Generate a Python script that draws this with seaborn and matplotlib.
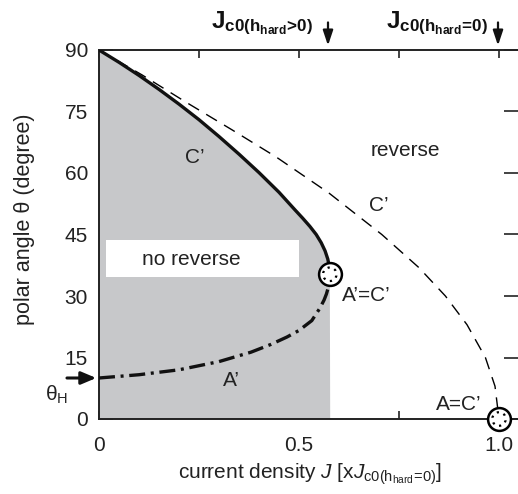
import numpy as np
import pandas as pd
import matplotlib
matplotlib.use("Agg")
import matplotlib.pyplot as plt
import seaborn as sns

# ---- data ----
# solid C' curve (upper branch of the boundary)
c_solid_J = [0.0, 0.05, 0.1, 0.15, 0.2, 0.25, 0.3, 0.35, 0.4, 0.45, 0.49, 0.509, 0.527,
             0.543, 0.5555, 0.5652, 0.572, 0.576, 0.577]
c_solid_theta = [90.0, 87.0, 83.8, 80.4, 76.8, 73.0, 68.9, 64.6, 60.1, 55.3, 51.0, 49.0, 47.0,
                 45.0, 43.0, 41.0, 39.0, 37.0, 35.3]
# dash-dot A' curve (lower branch)
a_J = [0.0, 0.1, 0.2, 0.3, 0.38, 0.43, 0.47, 0.5, 0.532, 0.552, 0.5626, 0.5686, 0.573, 0.5758, 0.577]
a_theta = [10.0, 10.8, 12.0, 14.0, 16.3, 18.2, 20.0, 21.6, 24.0, 27.0, 29.0, 30.5, 32.0, 33.5, 35.3]
# dashed C' curve for h_hard = 0
d_J = [0.0, 0.108, 0.217, 0.333, 0.443, 0.575, 0.707, 0.80, 0.866, 0.92, 0.966, 0.99, 1.0]
d_theta = [90.0, 83.9, 77.3, 70.5, 63.9, 55.1, 45.0, 36.9, 30.0, 23.0, 15.0, 8.0, 0.0]
# special points
pts_J = [0.577, 1.0]
pts_theta = [35.3, 0.0]
theta_H = 10.0
jc_hard = 0.5725
jc_zero = 0.9975

x_ticks = [0, 0.25, 0.5, 0.75, 1.0]
x_ticklabels = ["0", "", "0.5", "", "1.0"]
y_ticks = [0, 15, 30, 45, 60, 75, 90]

sns.set_style("ticks")
plt.rcParams["font.family"] = ["Liberation Sans", "DejaVu Sans"]
plt.rcParams["mathtext.fontset"] = "custom"
plt.rcParams["mathtext.rm"] = "Liberation Sans"
plt.rcParams["mathtext.it"] = "Liberation Sans:italic"
plt.rcParams["mathtext.bf"] = "Liberation Sans:bold"

W, H = 518, 494
fig = plt.figure(figsize=(W / 100, H / 100), dpi=100)
ax = fig.add_axes([99 / W, 1 - 419 / H, 419 / W, 369 / H])

gray = "#c7c8ca"
# shaded "no reverse" region
poly_x = [0.0] + c_solid_J + [c_solid_J[-1] + 0.001, 0.0]
poly_y = [0.0] + c_solid_theta + [0.0, 0.0]
ax.fill(poly_x, poly_y, color=gray, lw=0, zorder=1)

# white box for label
ax.add_patch(plt.Rectangle((0.0175, 34.6), 0.4825, 9.0, facecolor="white", edgecolor="none", zorder=2))

df_d = pd.DataFrame({"J": d_J, "theta": d_theta})
df_c = pd.DataFrame({"J": c_solid_J, "theta": c_solid_theta})
df_a = pd.DataFrame({"J": a_J, "theta": a_theta})

sns.lineplot(data=df_d, x="J", y="theta", sort=False, estimator=None, ax=ax,
             color="black", lw=1.0, zorder=3)
ax.lines[-1].set_dashes((9, 6))
sns.lineplot(data=df_c, x="J", y="theta", sort=False, estimator=None, ax=ax,
             color="#111111", lw=2.4, zorder=4)
ax.lines[-1].set_solid_joinstyle("round")
sns.lineplot(data=df_a, x="J", y="theta", sort=False, estimator=None, ax=ax,
             color="#111111", lw=2.4, zorder=4)
ax.lines[-1].set_dashes((4.8, 1.7, 0.9, 1.7))

# circled points
ax.scatter(pts_J, pts_theta, s=270, facecolor="white", edgecolor="black", lw=1.8, zorder=6, clip_on=False)
ax.scatter(pts_J, pts_theta, s=95, facecolor="none", edgecolor="black", lw=1.6,
           linestyle=(0, (1, 2.2)), zorder=7, clip_on=False)

ax.set_xlim(0, 1.0475)
ax.set_ylim(0, 90)
ax.set_xticks(x_ticks)
ax.set_xticklabels(x_ticklabels)
ax.set_yticks(y_ticks)

ax.spines["right"].set_visible(False)
for s in ["left", "bottom", "top"]:
    ax.spines[s].set_linewidth(1.4)
    ax.spines[s].set_color("#222222")
ax.tick_params(axis="y", direction="in", length=10, width=1.2, left=True, right=True,
               labelsize=15, pad=8, colors="#222222")
ax.tick_params(axis="x", direction="in", length=6, width=1.2, top=True, bottom=True,
               labelsize=15, pad=12, colors="#222222")

ax.set_ylabel("polar angle θ (degree)", fontsize=15.5, color="#222222")
ax.yaxis.set_label_coords(-0.153, 0.542)
ax.set_xlabel(r"current density $\mathit{J}$ [x$\mathit{J}_{\mathrm{c0(h_{hard}\!=\!0)}}$]",
              fontsize=15, color="#222222")
ax.xaxis.set_label_coords(0.503, -0.115)

# text labels
tk = dict(color="#222222", zorder=8)
ax.text(0.765, 65.6, "reverse", fontsize=15, ha="center", va="center", **tk)
ax.text(0.24, 63.7, "C’", fontsize=15, ha="center", va="center", **tk)
ax.text(0.70, 52.0, "C’", fontsize=15, ha="center", va="center", **tk)
ax.text(0.232, 38.9, "no reverse", fontsize=15, ha="center", va="center", **tk)
ax.text(0.668, 30.2, "A’=C’", fontsize=15, ha="center", va="center", **tk)
ax.text(0.33, 9.5, "A’", fontsize=15, ha="center", va="center", **tk)
ax.text(0.90, 3.6, "A=C’", fontsize=15, ha="center", va="center", **tk)

# theta_H arrow and label
ax.annotate("", xy=(0.0, theta_H), xytext=(-0.087, theta_H),
            arrowprops=dict(arrowstyle="-|>,head_length=0.9,head_width=0.38", color="#111111", lw=2.2),
            annotation_clip=False, zorder=9)
ax.text(-0.107, 6.0, r"θ$_\mathrm{H}$", fontsize=15, ha="center", va="center",
        color="#222222", clip_on=False)

# top arrows and labels
for xj in [jc_hard, jc_zero]:
    ax.annotate("", xy=(xj, 90.4), xytext=(xj, 97.4),
                arrowprops=dict(arrowstyle="-|>,head_length=0.9,head_width=0.3", color="#111111", lw=1.6),
                annotation_clip=False)
ax.text(0.535, 95.4, r"$\mathbf{J_{c0(h_{hard}\!>\!0)}}$", fontsize=17.5, ha="right", va="baseline",
        color="#111111", clip_on=False)
ax.text(0.9725, 95.4, r"$\mathbf{J_{c0(h_{hard}\!=\!0)}}$", fontsize=17.5, ha="right", va="baseline",
        color="#111111", clip_on=False)

fig.savefig("out.png", dpi=100)
